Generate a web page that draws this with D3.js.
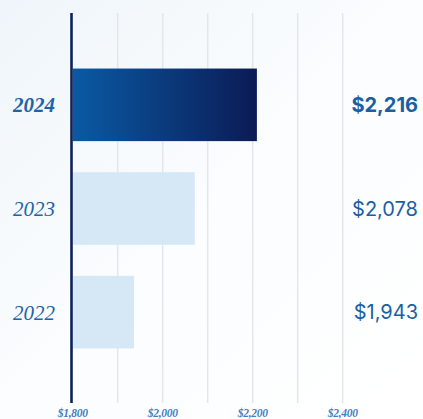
<!DOCTYPE html>
<html>
<head>
<meta charset="utf-8">
<script src="https://cdn.jsdelivr.net/npm/d3@7"></script>
<style>
  html, body { margin: 0; padding: 0; }
  body { width: 423px; height: 419px; overflow: hidden; }
</style>
</head>
<body>
<div class="grafic"></div>
<script>
// data
const years = ["2024", "2023", "2022"];
const costs = [2216, 2078, 1943];
const valueLabels = ["$2,216", "$2,078", "$1,943"];
const gridValues = [1900, 2000, 2100, 2200, 2300, 2400];
const tickValues = [1800, 2000, 2200, 2400];
const tickLabels = ["$1,800", "$2,000", "$2,200", "$2,400"];

const w = 423, h = 419;

const svg = d3.select(".grafic")
    .append("svg")
    .attr("width", w)
    .attr("height", h);

const defs = svg.append("defs");

// soft background wash
const bg = defs.append("linearGradient")
    .attr("id", "bg")
    .attr("x1", "0").attr("y1", "0")
    .attr("x2", "1").attr("y2", "1");
bg.append("stop").attr("offset", "0").attr("stop-color", "#eff5fa");
bg.append("stop").attr("offset", "0.5").attr("stop-color", "#fbfdfe");
bg.append("stop").attr("offset", "1").attr("stop-color", "#ffffff");

const barGrad = defs.append("linearGradient")
    .attr("id", "barGrad")
    .attr("x1", "0").attr("y1", "0")
    .attr("x2", "1").attr("y2", "0");
barGrad.append("stop").attr("offset", "0").attr("stop-color", "#0a5aa4");
barGrad.append("stop").attr("offset", "1").attr("stop-color", "#0b1b55");

svg.append("rect")
    .attr("width", w)
    .attr("height", h)
    .attr("fill", "url(#bg)");

let xScale = d3.scaleLinear()
    .domain([1800, 2400])
    .range([72.7, 342.7]);

let yScale = d3.scaleBand()
    .domain(years)
    .range([53, 364])
    .paddingInner(0.3)
    .paddingOuter(0.15);

// grid lines
svg.append("g")
    .selectAll("line")
    .data(gridValues)
    .enter()
    .append("line")
    .attr("x1", d => xScale(d))
    .attr("x2", d => xScale(d))
    .attr("y1", 13)
    .attr("y2", 403)
    .attr("stroke", "#e5e6ea")
    .attr("stroke-width", 1.5);

// bars (start just right of the axis line)
svg.append("g")
    .selectAll("rect")
    .data(costs)
    .enter()
    .append("rect")
    .attr("x", xScale(1800))
    .attr("y", (d, i) => yScale(years[i]))
    .attr("width", d => xScale(d) - xScale(1800) - 3)
    .attr("height", yScale.bandwidth())
    .attr("fill", (d, i) => i === 0 ? "url(#barGrad)" : "#d6e7f5");

// axis line
svg.append("line")
    .attr("x1", 71.5).attr("x2", 71.5)
    .attr("y1", 13).attr("y2", 403)
    .attr("stroke", "#0e2358")
    .attr("stroke-width", 2.6);

// year labels
svg.append("g")
    .selectAll("text")
    .data(years)
    .enter()
    .append("text")
    .attr("x", 55)
    .attr("y", d => yScale(d) + yScale.bandwidth() / 2)
    .attr("dy", "0.35em")
    .attr("text-anchor", "end")
    .attr("font-family", "'Liberation Serif', 'DejaVu Serif', serif")
    .attr("font-style", "italic")
    .attr("font-weight", (d, i) => i === 0 ? "bold" : "normal")
    .attr("font-size", 21)
    .attr("fill", "#1c63a9")
    .text(d => d);

// value labels
svg.append("g")
    .selectAll("text")
    .data(valueLabels)
    .enter()
    .append("text")
    .attr("x", 418)
    .attr("y", (d, i) => yScale(years[i]) + yScale.bandwidth() / 2)
    .attr("dy", "0.35em")
    .attr("text-anchor", "end")
    .attr("font-family", "Inter, 'Noto Sans', sans-serif")
    .attr("font-weight", (d, i) => i === 0 ? "bold" : "normal")
    .attr("font-size", 20)
    .attr("fill", "#1a5ea4")
    .text(d => d);

// bottom tick labels
svg.append("g")
    .selectAll("text")
    .data(tickValues)
    .enter()
    .append("text")
    .attr("x", d => xScale(d))
    .attr("y", 417)
    .attr("text-anchor", "middle")
    .attr("font-family", "'Liberation Serif', 'DejaVu Serif', serif")
    .attr("font-style", "italic")
    .attr("font-weight", "bold")
    .attr("font-size", 11.5)
    .attr("letter-spacing", -0.3)
    .attr("fill", "#3f80c2")
    .text((d, i) => tickLabels[i]);
</script>
</body>
</html>
